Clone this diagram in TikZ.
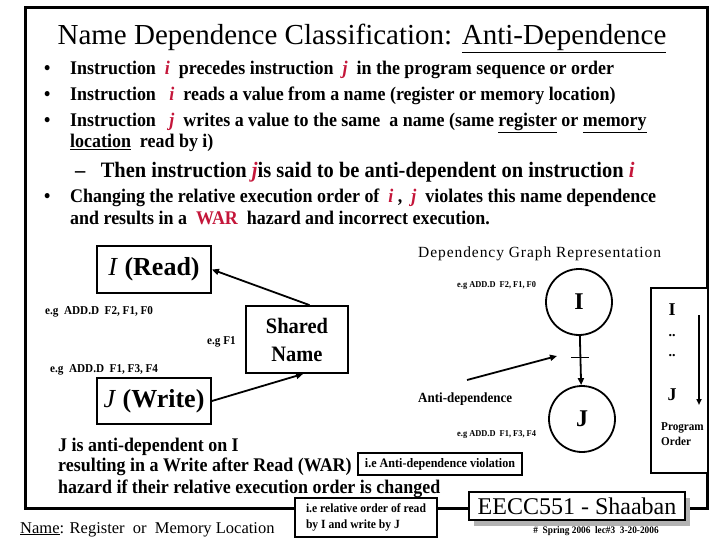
\documentclass[tikz,border=0pt]{standalone}
\usepackage{fontspec}
\setmainfont{Liberation Serif}
\newfontfamily\narrowrm{Liberation Serif}[FakeStretch=0.93, Ligatures=TeX]
\newfontfamily\widerm{Liberation Serif}[LetterSpace=6]
\usetikzlibrary{arrows.meta, shadows}
\definecolor{hazred}{RGB}{196,22,58}
\newcommand{\hi}[1]{\textcolor{hazred}{\textit{#1}}}

\begin{document}
\begin{tikzpicture}[x=1pt,y=-1pt,
  body/.style={inner sep=0pt, anchor=base west, font=\narrowrm\bfseries\fontsize{19.3}{21}\selectfont},
  small/.style={inner sep=0pt, anchor=base west, font=\narrowrm\bfseries\fontsize{12}{13}\selectfont},
  tiny/.style={inner sep=0pt, anchor=base west, font=\narrowrm\bfseries\fontsize{9}{10}\selectfont},
  blk/.style={draw, line width=1.8pt, fill=white, inner sep=0pt},
  arr/.style={line width=1.8pt, -{Triangle[length=7pt,width=6pt]}}]
\useasboundingbox (0,0) rectangle (720,540);

% frame
\draw[line width=3pt] (25,8) rectangle (707,508);

% title and bullets
\node[anchor=base, inner sep=0pt] (title) at (362,45) {\fontsize{29}{31}\selectfont Name Dependence Classification: \underline{Anti-Dependence}};
\node[body] (b1) at (44,75) {\textbullet};
\node[body] (b2) at (44,101) {\textbullet};
\node[body] (b3) at (44,127) {\textbullet};
\node[body] (b4) at (44,203) {\textbullet};
\node[body] (l1) at (70,75) {Instruction \ \hi{i} \ precedes instruction \ \hi{j} \ in the program sequence or order};
\node[body] (l2) at (70,101) {Instruction \ \ \hi{i} \ reads a value from a name (register or memory location)};
\node[body] (l3) at (70,127) {Instruction \ \ \hi{j} \ writes a value to the same \ a name (same \underline{register} or \underline{memory}};
\node[body] (l3b) at (70,148) {\underline{location} \ read by i)};
\node[body, font=\narrowrm\bfseries\fontsize{22}{24}\selectfont] (dash) at (75,178) {\textendash\ \ \ Then instruction \hi{j}is said to be anti-dependent on instruction \hi{i}};
\node[body] (l4) at (70,203) {Changing the relative execution order of \ \hi{i} , \ \hi{j} \ violates this name dependence};
\node[body] (l4b) at (70,225) {and results in a \ \textcolor{hazred}{WAR} \ hazard and incorrect execution.};

% left graph
\node[blk, minimum width=114pt, minimum height=47pt] (read) at (154,269.5) {\fontsize{26}{28}\selectfont\textit{I} \textbf{(Read)}};
\node[blk, minimum width=114pt, minimum height=46pt] (write) at (154,401) {\fontsize{26}{28}\selectfont\textit{J} \textbf{(Write)}};
\node[blk, minimum width=102pt, minimum height=67pt, align=center, font=\narrowrm\bfseries\fontsize{22}{28}\selectfont] (shared) at (297,339.5) {Shared\\Name};
\node[small] (egi) at (45,314) {e.g \ ADD.D \ F2, F1, F0};
\node[small] (egj) at (50,372) {e.g \ ADD.D \ F1, F3, F4};
\node[small] (egf) at (207,344) {e.g F1};
\draw[arr] (shared.70) -- (read.east);
\draw[arr] (write.east) -- (shared.-80);

% dependency graph
\node[inner sep=0pt, anchor=base west, font=\widerm\fontsize{15.5}{17}\selectfont] (dgr) at (418,258) {Dependency Graph Representation};
\node[draw, circle, line width=1.8pt, minimum size=66pt, inner sep=0pt, font=\bfseries\fontsize{24}{26}\selectfont] (ci) at (579,302) {I};
\node[draw, circle, line width=1.8pt, minimum size=66pt, inner sep=0pt, font=\bfseries\fontsize{24}{26}\selectfont] (cj) at (582,419) {J};
\node[tiny] (egci) at (457,287) {e.g ADD.D \ F2, F1, F0};
\node[tiny] (egcj) at (457,436) {e.g ADD.D \ F1, F3, F4};
\draw[arr] (ci) -- coordinate[pos=0.44] (tick) (cj);
\draw[line width=1.8pt] (tick) ++(-9,0) -- ++(18,0);
\node[inner sep=0pt, anchor=base west, font=\narrowrm\bfseries\fontsize{14}{15}\selectfont] (anti) at (418,402) {Anti-dependence};
\coordinate (antistart) at (467,380);
\coordinate (antiend) at (557,356);
\draw[arr] (antistart) -- (antiend);

% program order
\node[blk, minimum width=57pt, minimum height=185pt] (ordbox) at (679.5,380.5) {};
\node[inner sep=0pt, font=\bfseries\fontsize{18}{20}\selectfont] (oi) at (672,310) {I};
\node[inner sep=0pt, font=\bfseries\fontsize{14}{16}\selectfont] (od1) at (672,336) {..};
\node[inner sep=0pt, font=\bfseries\fontsize{14}{16}\selectfont] (od2) at (672,356) {..};
\node[inner sep=0pt, font=\bfseries\fontsize{18}{20}\selectfont] (oj) at (672,395) {J};
\coordinate (ordtop) at (699,315);
\coordinate (ordbot) at (699,405);
\draw[line width=1.5pt, -{Triangle[length=6pt,width=5pt]}] (ordtop) -- (ordbot);
\node[small, font=\narrowrm\bfseries\fontsize{12}{15}\selectfont, align=left, anchor=north west] (otext) at (661,422) {Program\\Order};

% bottom text
\node[body] (m1) at (58,451) {J is anti-dependent on I};
\node[body] (m2) at (58,471) {resulting in a Write after Read (WAR)};
\node[body] (m3) at (58,493) {hazard if their relative execution order is changed};
\node[blk, line width=1.5pt, minimum width=164pt, minimum height=22pt, font=\narrowrm\bfseries\fontsize{13}{15}\selectfont] (viol) at (440,464) {i.e Anti-dependence violation};
\node[blk, line width=1.5pt, minimum width=142pt, minimum height=39pt, align=left, font=\narrowrm\bfseries\fontsize{12.5}{16}\selectfont] (relord) at (366,517.5) {i.e relative order of read\\by I and write by J};
\node[inner sep=0pt, anchor=base west, font=\fontsize{16.5}{18}\selectfont] (nameloc) at (20,533) {\underline{Name}: Register \ or \ Memory Location};

% footer
\node[blk, line width=1.5pt, minimum width=216pt, minimum height=28pt, font=\fontsize{24}{26}\selectfont,
  general shadow={fill=gray!60, shadow xshift=5pt, shadow yshift=-6pt}] (eecc) at (577,506) {EECC551 - Shaaban};
\node[tiny, anchor=center, font=\narrowrm\bfseries\fontsize{10}{11}\selectfont] (spring) at (596,531) {\# \ Spring 2006 \ lec\#3 \ 3-20-2006};
\end{tikzpicture}
\end{document}
